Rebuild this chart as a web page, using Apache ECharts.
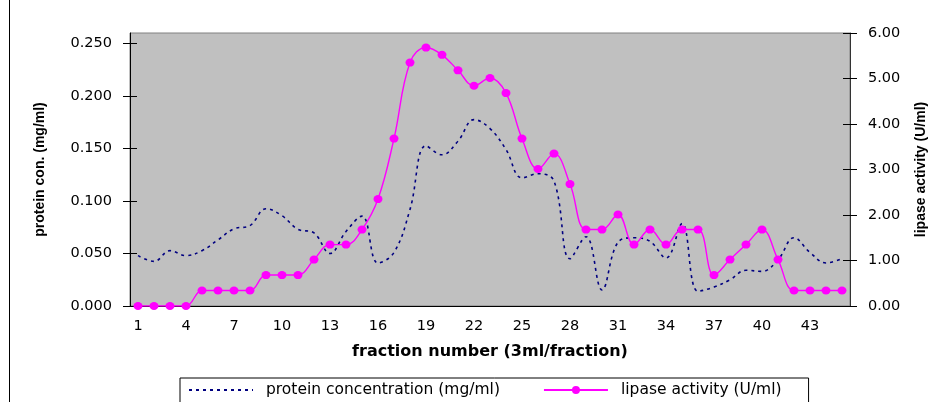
<!DOCTYPE html>
<html>
<head>
<meta charset="utf-8">
<script src="https://cdn.jsdelivr.net/npm/echarts@6/dist/echarts.min.js"></script>
<style>
html,body{margin:0;padding:0;background:#fff;}
#chart{width:946px;height:402px;}
</style>
</head>
<body>
<div id="chart"></div>
<script>
// ---- data ----
var fractions = [];
for (var i = 1; i <= 45; i++) fractions.push(String(i));

var protein = [0.048, 0.0425, 0.0527, 0.048, 0.0527, 0.063, 0.0735, 0.0766, 0.0926, 0.086,
  0.073, 0.0696, 0.050, 0.071, 0.0856, 0.041, 0.051, 0.092, 0.1526, 0.144,
  0.157, 0.1775, 0.169, 0.149, 0.122, 0.126, 0.119, 0.045, 0.066, 0.0153,
  0.0607, 0.065, 0.0616, 0.0457, 0.0785, 0.014, 0.018, 0.025, 0.034, 0.033,
  0.044, 0.065, 0.051, 0.041, 0.045];

var lipase = [0, 0, 0, 0, 0.34, 0.34, 0.34, 0.34, 0.68, 0.68,
  0.68, 1.02, 1.35, 1.35, 1.68, 2.35, 3.68, 5.35, 5.68, 5.52,
  5.18, 4.84, 5.01, 4.68, 3.68, 3.01, 3.35, 2.68, 1.68, 1.68,
  2.01, 1.35, 1.68, 1.35, 1.68, 1.68, 0.68, 1.02, 1.35, 1.68,
  1.02, 0.34, 0.34, 0.34, 0.34];

var leftTicks = [0, 0.05, 0.10, 0.15, 0.20, 0.25];
var rightTicks = [0, 1, 2, 3, 4, 5, 6];

var seriesNames = ['protein concentration (mg/ml)', 'lipase activity (U/ml)'];
var xTitle = 'fraction number (3ml/fraction)';
var leftTitle = 'protein con. (mg/ml)';
var rightTitle = 'lipase activity (U/ml)';

// ---- chart ----
var FONT = 'DejaVu Sans';
var chart = echarts.init(document.getElementById('chart'), null, {renderer: 'canvas'});

var baseY = function (pos, max, ticks, fmt, inside, lineColor) {
  return {
    type: 'value', position: pos, min: 0, max: max,
    axisLine: {show: !inside, onZero: false, lineStyle: {color: lineColor, width: 1}},
    axisTick: {show: true, inside: inside, length: 7, customValues: ticks,
      lineStyle: {color: '#000', width: 1}},
    axisLabel: inside ? {show: false} : {
      show: true, customValues: ticks, margin: 18, color: '#000',
      fontFamily: FONT, fontSize: 14.5,
      formatter: function (v) { return v.toFixed(fmt); }
    },
    splitLine: {show: false}
  };
};

var yLeft = baseY('left', 0.26, leftTicks, 3, false, '#000');
yLeft.name = leftTitle;
yLeft.nameLocation = 'middle';
yLeft.nameGap = 83;
yLeft.nameTextStyle = {fontFamily: 'Liberation Sans', fontWeight: 'bold', fontSize: 14, color: '#000'};

var yRight = baseY('right', 6, rightTicks, 2, false, '#333');
yRight.name = rightTitle;
yRight.nameLocation = 'middle';
yRight.nameGap = 64;
yRight.nameRotate = 90;
yRight.nameTextStyle = {fontFamily: 'Liberation Sans', fontWeight: 'bold', fontSize: 14, color: '#000'};

var option = {
  backgroundColor: '#fff',
  animation: false,
  grid: {left: 130, right: 96, top: 33, bottom: 96, show: true,
    backgroundColor: '#C0C0C0', borderColor: '#808080', borderWidth: 1},
  legend: {
    data: [
      {name: seriesNames[0], itemStyle: {color: 'rgba(0,0,0,0)', borderWidth: 0}},
      {name: seriesNames[1]}
    ],
    left: 180, top: 378,
    padding: [4, 27, 30, 8], itemGap: 43, itemWidth: 64, itemHeight: 10,
    borderColor: '#000', borderWidth: 1, backgroundColor: '#fff',
    textStyle: {fontFamily: FONT, fontSize: 15.5, color: '#000', padding: [0, 0, 0, 8]}
  },
  xAxis: [{
    type: 'category', data: fractions, boundaryGap: true, position: 'bottom',
    name: xTitle, nameLocation: 'middle', nameGap: 38,
    nameTextStyle: {fontFamily: FONT, fontWeight: 'bold', fontSize: 16, color: '#000'},
    axisLine: {onZero: false, lineStyle: {color: '#000', width: 1}},
    axisTick: {interval: 2, length: 4, lineStyle: {color: '#000'}},
    axisLabel: {interval: 2, margin: 13, color: '#000', fontFamily: FONT, fontSize: 14.5},
    splitLine: {show: false}
  }, {
    type: 'category', data: fractions, boundaryGap: true, position: 'bottom',
    axisLine: {show: false},
    axisTick: {interval: 2, length: 4, inside: true, lineStyle: {color: '#000'}},
    axisLabel: {show: false}, splitLine: {show: false}
  }],
  yAxis: [yLeft, yRight,
    baseY('left', 0.26, leftTicks, 3, true, '#000'),
    baseY('right', 6, rightTicks, 2, true, '#333')],
  graphic: [{
    type: 'line', shape: {x1: 9.5, y1: 0, x2: 9.5, y2: 402},
    style: {stroke: '#000', lineWidth: 1}
  }],
  series: [{
    name: seriesNames[0], type: 'line', xAxisIndex: 0, yAxisIndex: 0,
    data: protein, smooth: 0.4, symbol: 'none', showSymbol: false,
    lineStyle: {color: '#000080', width: 1.6, type: [3, 4]},
    itemStyle: {color: '#000080'}, z: 3
  }, {
    name: seriesNames[1], type: 'line', xAxisIndex: 0, yAxisIndex: 1,
    data: lipase, smooth: 0.4, symbol: 'circle', symbolSize: [9, 8],
    lineStyle: {color: '#FF00FF', width: 1.4},
    itemStyle: {color: '#FF00FF'}, z: 4
  }]
};
chart.setOption(option);
</script>
</body>
</html>
